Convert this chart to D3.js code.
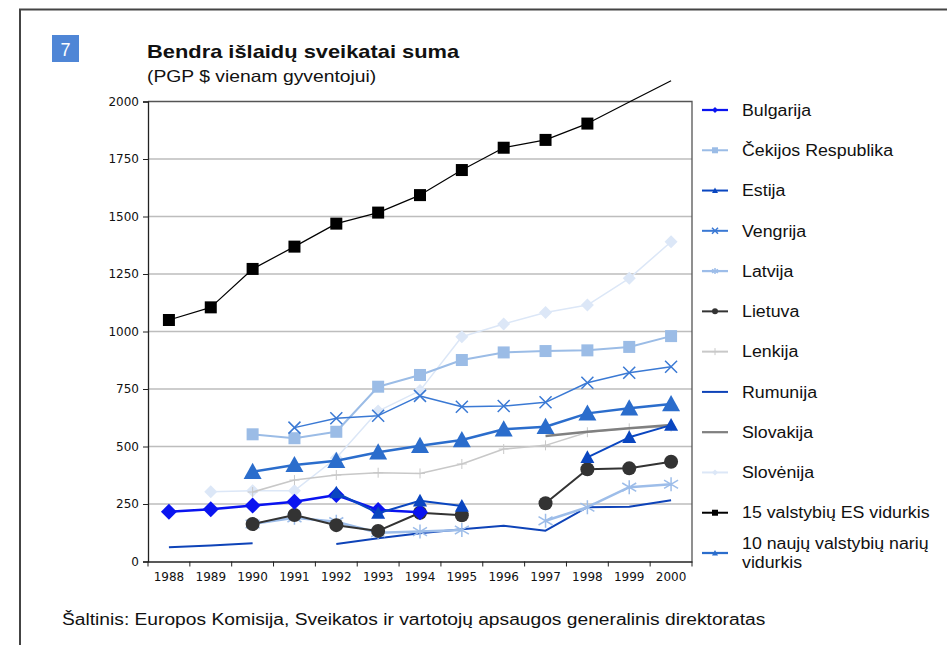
<!DOCTYPE html>
<html>
<head>
<meta charset="utf-8">
<script src="https://cdn.jsdelivr.net/npm/d3@7"></script>
<style>
  body { margin: 0; background: #fff; }
  svg { display: block; }
</style>
</head>
<body>
<svg id="chart" width="947" height="645"></svg>
<script>
// categories and series (PGP $ per inhabitant)
const years = ["1988", "1989", "1990", "1991", "1992", "1993", "1994", "1995", "1996", "1997", "1998", "1999", "2000"];
const yTicks = [0, 250, 500, 750, 1000, 1250, 1500, 1750, 2000];

const bulgarija = [216, 227, 243, 260, 289, 224, 214, null, null, null, null, null, null];
const cekija = [null, null, 553, 536, 564, 760, 811, 876, 909, 915, 918, 933, 980];
const estija = [null, null, null, null, 299, 210, 264, 241, null, null, 453, 540, 593];
const vengrija = [null, null, null, 582, 623, 634, 720, 673, 676, 692, 777, 821, 847];
const latvija = [null, null, 163, 190, 173, 125, 130, 137, null, 177, 236, 323, 336];
const lietuva = [null, null, 163, 202, 158, 133, 212, 201, null, 253, 401, 405, 434];
const lenkija = [null, null, 302, 354, 376, 386, 383, 424, 489, 505, 562, 579, 586];
const rumunija = [62, 70, 79, null, 76, 101, 123, 140, 155, 134, 236, 238, 266];
const slovakija = [null, null, null, null, null, null, null, null, null, 546, 564, 579, 593];
const slovenija = [null, 303, 308, 308, 450, 654, 743, 977, 1033, 1083, 1115, 1231, 1390];
const es15 = [1050, 1105, 1272, 1369, 1469, 1517, 1593, 1702, 1799, 1833, 1904, 1998, 2090];
const naujos10 = [null, null, 390, 420, 438, 475, 503, 528, 575, 586, 644, 666, 685];

const series = [
  { name: "Bulgarija", values: bulgarija, color: "#0a14f0", width: 2.5, marker: "diamond", size: 8 },
  { name: "Čekijos Respublika", values: cekija, color: "#9bbce6", width: 2, marker: "square", size: 6 },
  { name: "Estija", values: estija, color: "#0a46c0", width: 2, marker: "triangle", size: 7 },
  { name: "Vengrija", values: vengrija, color: "#3a79d4", width: 1.5, marker: "x", size: 6 },
  { name: "Latvija", values: latvija, color: "#9dbde9", width: 2.5, marker: "star", size: 7 },
  { name: "Lietuva", values: lietuva, color: "#333333", width: 2, marker: "circle", size: 7 },
  { name: "Lenkija", values: lenkija, color: "#c8c8c8", width: 1.5, marker: "plus", size: 5 },
  { name: "Rumunija", values: rumunija, color: "#0e43b8", width: 2, marker: null, size: 0 },
  { name: "Slovakija", values: slovakija, color: "#808080", width: 2.5, marker: null, size: 0 },
  { name: "Slovėnija", values: slovenija, color: "#dce7f7", width: 1.5, marker: "diamond", size: 6.5 },
  { name: "15 valstybių ES vidurkis", values: es15, color: "#000000", width: 1.2, marker: "square", size: 6 },
  { name: "10 naujų valstybių narių vidurkis", values: naujos10, color: "#2b6dcc", width: 2.5, marker: "triangle", size: 9 }
];

// order in which the lines are painted (back to front)
const drawOrder = [9, 6, 8, 7, 4, 1, 3, 5, 0, 2, 11, 10];

const svg = d3.select("#chart");
const plotLeft = 148, plotRight = 692, plotTop = 101.5, plotBottom = 561.5;

const x = d3.scaleBand().domain(years).range([plotLeft, plotRight]);
const y = d3.scaleLinear().domain([0, 2000]).range([plotBottom, plotTop]);
const cx = yr => x(yr) + x.bandwidth() / 2;

// the original type is set a little wider than Liberation Sans, stretch to fit
function widen(sel, factor) {
  sel.each(function () {
    const w = this.getComputedTextLength();
    d3.select(this).attr("textLength", w * factor).attr("lengthAdjust", "spacingAndGlyphs");
  });
}

// outer frame
svg.append("rect")
  .attr("x", 20).attr("y", 9.5)
  .attr("width", 960).attr("height", 700)
  .attr("fill", "none").attr("stroke", "#444").attr("stroke-width", 2);

// section number box
svg.append("rect")
  .attr("x", 52).attr("y", 35).attr("width", 27).attr("height", 27)
  .attr("fill", "#4f86d6");
svg.append("text")
  .attr("x", 65.5).attr("y", 56)
  .attr("text-anchor", "middle")
  .attr("fill", "#fff")
  .style("font", "18px 'Liberation Sans', Arial, sans-serif")
  .text("7");

// titles
svg.append("text")
  .attr("x", 147).attr("y", 58)
  .style("font", "bold 19px 'Liberation Sans', Arial, sans-serif")
  .attr("fill", "#111")
  .text("Bendra išlaidų sveikatai suma")
  .call(widen, 1.15);
svg.append("text")
  .attr("x", 147).attr("y", 81.5)
  .style("font", "16.5px 'Liberation Sans', Arial, sans-serif")
  .attr("fill", "#111")
  .text("(PGP $ vienam gyventojui)")
  .call(widen, 1.17);

// gridlines
svg.append("g")
  .selectAll("line")
  .data(yTicks.filter(d => d > 0 && d < 2000))
  .join("line")
  .attr("x1", plotLeft).attr("x2", plotRight)
  .attr("y1", d => y(d)).attr("y2", d => y(d))
  .attr("stroke", "#bdbdbd").attr("stroke-width", 1.5);

// plot box top and right
svg.append("path")
  .attr("d", `M${plotLeft},${plotTop}H${plotRight}V${plotBottom}`)
  .attr("fill", "none").attr("stroke", "#555").attr("stroke-width", 1.3);

// y axis
const yAxis = svg.append("g")
  .attr("transform", `translate(${plotLeft},0)`)
  .call(d3.axisLeft(y).tickValues(yTicks).tickSize(5).tickPadding(4).tickFormat(d3.format("d")));
yAxis.select(".domain").attr("stroke", "#222").attr("stroke-width", 1.3);
yAxis.selectAll(".tick line").attr("stroke", "#222");
yAxis.selectAll("text")
  .style("font", "12px 'DejaVu Sans', Verdana, sans-serif")
  .attr("fill", "#111");

// x axis, ticks on band edges
const xAxis = svg.append("g")
  .attr("transform", `translate(0,${plotBottom})`)
  .call(d3.axisBottom(x).tickSize(0).tickPadding(11));
xAxis.select(".domain").attr("stroke", "#222").attr("stroke-width", 1.3);
xAxis.selectAll("text")
  .style("font", "12px 'DejaVu Sans', Verdana, sans-serif")
  .attr("fill", "#111");
svg.append("g")
  .selectAll("line")
  .data(d3.range(years.length + 1))
  .join("line")
  .attr("x1", i => plotLeft + i * x.bandwidth())
  .attr("x2", i => plotLeft + i * x.bandwidth())
  .attr("y1", plotBottom).attr("y2", plotBottom + 5)
  .attr("stroke", "#222");

function drawMarker(g, type, px, py, s, color) {
  if (type === "square") {
    g.append("rect").attr("x", px - s).attr("y", py - s)
      .attr("width", 2 * s).attr("height", 2 * s).attr("fill", color);
  } else if (type === "diamond") {
    g.append("path").attr("d", `M${px},${py - s}L${px + s},${py}L${px},${py + s}L${px - s},${py}Z`)
      .attr("fill", color);
  } else if (type === "triangle") {
    g.append("path").attr("d", `M${px},${py - s}L${px + s},${py + s * 0.8}L${px - s},${py + s * 0.8}Z`)
      .attr("fill", color);
  } else if (type === "circle") {
    g.append("circle").attr("cx", px).attr("cy", py).attr("r", s).attr("fill", color);
  } else if (type === "x") {
    g.append("path").attr("d", `M${px - s},${py - s}L${px + s},${py + s}M${px - s},${py + s}L${px + s},${py - s}`)
      .attr("stroke", color).attr("stroke-width", 1.5);
  } else if (type === "star") {
    g.append("path").attr("d", `M${px - s},${py - s * 0.6}L${px + s},${py + s * 0.6}M${px - s},${py + s * 0.6}L${px + s},${py - s * 0.6}M${px},${py - s}L${px},${py + s}`)
      .attr("stroke", color).attr("stroke-width", 1.5);
  } else if (type === "plus") {
    g.append("path").attr("d", `M${px - s},${py}L${px + s},${py}M${px},${py - s}L${px},${py + s}`)
      .attr("stroke", color).attr("stroke-width", 1);
  }
}

const line = d3.line()
  .defined(d => d.v !== null)
  .x(d => cx(d.yr))
  .y(d => y(d.v));

drawOrder.forEach(i => {
  const s = series[i];
  const pts = years.map((yr, j) => ({ yr: yr, v: s.values[j] }));
  const g = svg.append("g");
  g.append("path")
    .datum(pts)
    .attr("d", line)
    .attr("fill", "none")
    .attr("stroke", s.color)
    .attr("stroke-width", s.width)
    .attr("stroke-linejoin", "round");
  if (s.marker) {
    pts.filter(d => d.v !== null && d.v < 1990)
      .forEach(d => drawMarker(g, s.marker, cx(d.yr), y(d.v), s.size, s.color));
  }
});

// legend
const legend = svg.append("g").attr("transform", "translate(702,0)");
const legendY = d3.scaleLinear().domain([0, 11]).range([110, 553]);
series.forEach((s, i) => {
  const ly = legendY(i);
  legend.append("line")
    .attr("x1", 0).attr("x2", 26)
    .attr("y1", ly).attr("y2", ly)
    .attr("stroke", s.color)
    .attr("stroke-width", Math.max(2, s.width * 0.9));
  if (s.marker) drawMarker(legend, s.marker, 13, ly, s.marker === "plus" ? 3.5 : 3, s.color);
  const t = legend.append("text")
    .attr("x", 40)
    .style("font", "16px 'Liberation Sans', Arial, sans-serif")
    .attr("fill", "#111");
  if (i === 11) {
    t.append("tspan").attr("x", 40).attr("y", ly - 4).text("10 naujų valstybių narių");
    t.append("tspan").attr("x", 40).attr("y", ly + 14.5).text("vidurkis");
    widen(t.selectAll("tspan"), 1.11);
  } else {
    t.attr("y", ly).attr("dy", "0.36em").text(s.name);
    widen(t, 1.11);
  }
});

// source note
svg.append("text")
  .attr("x", 62).attr("y", 625)
  .style("font", "16px 'Liberation Sans', Arial, sans-serif")
  .attr("fill", "#111")
  .text("Šaltinis: Europos Komisija, Sveikatos ir vartotojų apsaugos generalinis direktoratas")
  .call(widen, 1.2);
</script>
</body>
</html>
